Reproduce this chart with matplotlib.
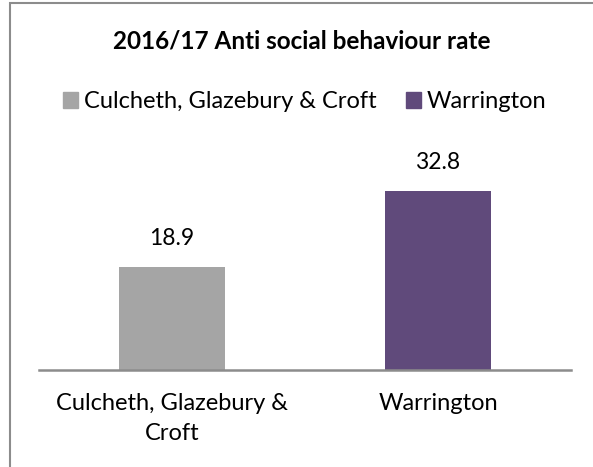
import matplotlib
matplotlib.use("Agg")
import matplotlib.pyplot as plt
from matplotlib.patches import Rectangle

categories = ["Culcheth, Glazebury &\nCroft", "Warrington"]
series_names = ["Culcheth, Glazebury & Croft", "Warrington"]
values = [18.9, 32.8]
colors = ["#A5A5A5", "#604A7B"]
title = "2016/17 Anti social behaviour rate"

plt.rcParams['font.family'] = ['Lato', 'DejaVu Sans']

W, H = 593, 467
fig = plt.figure(figsize=(W / 100, H / 100), dpi=100)

def px(x, y):
    return x / W, 1 - y / H

# outer border (extends past right/bottom edges)
fig.patches.append(Rectangle((9.5 / W, -0.1), 1.2, 1.1 - 2.5 / H, transform=fig.transFigure,
                             fill=False, edgecolor="#8C8C8C", linewidth=1.5))

ymax = 35
ax_left, ax_right = 39, 571
ax_bottom = 369.7
scale = (369.7 - 267) / 18.9
ax_top = ax_bottom - ymax * scale
ax = fig.add_axes([ax_left / W, 1 - ax_bottom / H, (ax_right - ax_left) / W, (ax_bottom - ax_top) / H])

x = [0, 1]
bars = ax.bar(x, values, width=0.40, color=colors, label=series_names)
ax.set_xlim(-0.5, 1.5)
ax.set_ylim(0, ymax)
for s in ["top", "right", "left"]:
    ax.spines[s].set_visible(False)
ax.spines["bottom"].set_color("#8C8C8C")
ax.spines["bottom"].set_linewidth(1.8)
ax.set_yticks([])
ax.set_xticks(x)
ax.set_xticklabels(categories, fontsize=17, color="#000000", linespacing=1.5)
ax.tick_params(axis="x", length=0, pad=17)

for xi, v in zip(x, values):
    ax.annotate(f"{v:.1f}", (xi, v), xytext=(0, 13), textcoords="offset points",
                ha="center", va="bottom", fontsize=16.5)

fig.text(*px(302, 41), title, ha="center", va="center", fontsize=17.5, fontweight="bold")

handles = [Rectangle((0, 0), 1, 1, color=c) for c in colors]
fig.legend(handles, series_names, loc="center", bbox_to_anchor=px(305, 102), ncol=2,
           frameon=False, fontsize=17, handlelength=0.64, handleheight=0.64,
           handletextpad=0.25, columnspacing=1.23, borderpad=0, borderaxespad=0)

fig.savefig("out.png", dpi=100)
